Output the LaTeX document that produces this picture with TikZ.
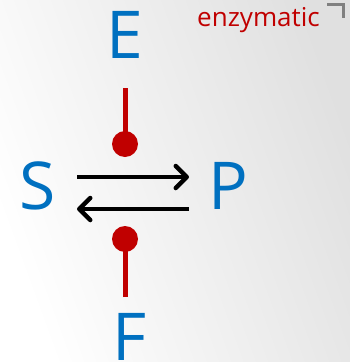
\documentclass[tikz,border=0pt]{standalone}
\usepackage{fontspec}
\setmainfont{Open Sans}
\usetikzlibrary{positioning}
\usetikzlibrary{calc}
\usetikzlibrary{arrows.meta}

\definecolor{speciesblue}{HTML}{0070C0}
\definecolor{inhibred}{HTML}{C00000}

\begin{document}
\begin{tikzpicture}[x=1pt,y=-1pt,every node/.style={inner sep=0pt},
    >={Straight Barb[length=11pt,width=22pt,line cap=round,line join=round]}]
    \tikzstyle species=[text=speciesblue,font=\fontsize{66}{66}\selectfont]
    \tikzstyle reaction=[->,line width=4.5pt,black]
    \tikzstyle inhib lines=[color=inhibred,line width=5pt]

    % background
    \shade[left color=white,right color=black!12,shading angle=110] (0,0) rectangle (350,362);

    % species
    \node[species] (S) at (38,186) {S};
    \node[species] (P) at (228,186) {P};
    \node[species] (E) at (125,35) {E};
    \node[species] (F) at (130,337) {F};

    % label and corner mark
    \node[anchor=base west,text=inhibred,font=\fontsize{26}{26}\selectfont] (lbl) at (197,26) {enzymatic};
    \draw[gray,line width=3pt] (327,4) -- (343,4) -- (343,18);

    % S <-> P
    \draw[reaction] ($(S)+(39,-9)$) -- ($(P)+(-39,-9)$);
    \draw[reaction] ($(P)+(-39,23)$) -- ($(S)+(39,23)$);

    % modifiers
    \coordinate (Ehead) at (125,144);
    \coordinate (Fhead) at (125,239);
    \draw[style=inhib lines] ($(E)+(0,53)$) -- (Ehead);
    \draw[style=inhib lines] ($(F)+(-5,-40)$) -- (Fhead);
    \fill[inhibred] (Ehead) circle (13);
    \fill[inhibred] (Fhead) circle (13);
\end{tikzpicture}
\end{document}
